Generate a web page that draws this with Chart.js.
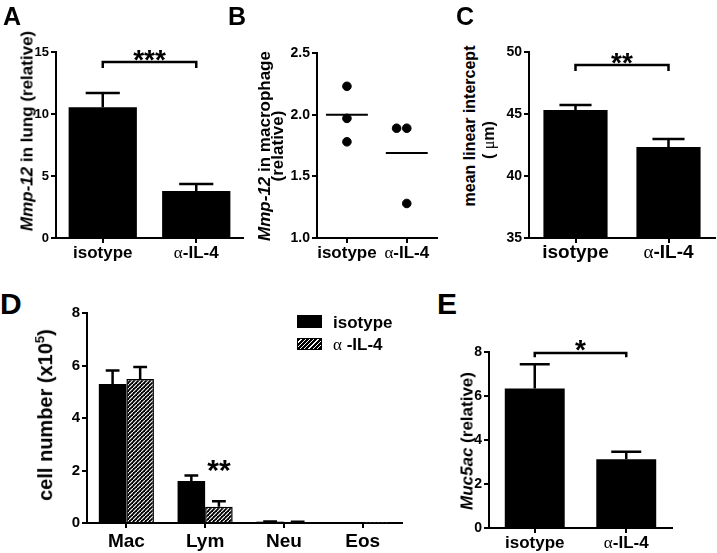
<!DOCTYPE html>
<html><head><meta charset="utf-8">
<script src="https://cdn.jsdelivr.net/npm/chart.js@4.4.0/dist/chart.umd.min.js"></script>
<style>
body{margin:0;background:#fff;width:717px;height:553px;position:relative;overflow:hidden;font-family:"Liberation Sans",Arial,sans-serif;}
canvas{position:absolute;}
.t{position:absolute;font-weight:bold;color:#000;white-space:nowrap;line-height:1;}
.rot{transform:translate(-50%,-50%) rotate(-90deg);}
.sym{font-family:"Liberation Serif","DejaVu Serif",serif;font-weight:normal;}
</style></head><body>
<script>
// ---------- data ----------
const groups = ['isotype', 'α-IL-4'];
const mmp12Lung = [10.55, 3.8];
const mmp12LungSem = [1.15, 0.55];
const macIsoPoints = [2.23, 1.97, 1.78];
const macAntiPoints = [1.89, 1.89, 1.28];
const macAntiJitter = [-0.17, 0, 0];
const macMeans = [2.0, 1.69];
const mli = [45.32, 42.34];
const mliSem = [0.41, 0.64];
const cellTypes = ['Mac', 'Lym', 'Neu', 'Eos'];
const cellsIso = [5.3, 1.6, 0.05, 0.01];
const cellsIsoSem = [0.51, 0.21, 0.01, 0];
const cellsAnti = [5.49, 0.62, 0.04, 0.01];
const cellsAntiSem = [0.45, 0.21, 0.01, 0];
const muc5ac = [6.34, 3.12];
const muc5acSem = [1.1, 0.35];
const sigA = [0, 1, 14.2, 13.7, '***'];
const sigC = [0, 1, 48.95, 48.47, '**'];
const sigE = [0, 1, 7.95, 7.76, '*'];
const sigD = [1, 1, 2.3, '**'];   // dataset, index, value, label

const F = '"Liberation Sans", Arial, sans-serif';
const SERIF = '"Liberation Serif", "DejaVu Serif", serif';

// ---------- plugins ----------
const errorBars = {
  id: 'errorBars',
  afterDatasetsDraw(chart) {
    const ctx = chart.ctx;
    chart.data.datasets.forEach((ds, i) => {
      if (!ds.errors) return;
      const meta = chart.getDatasetMeta(i);
      const ys = chart.scales.y;
      meta.data.forEach((bar, j) => {
        const e = ds.errors[j];
        if (!e) return;
        const top = ys.getPixelForValue(ds.data[j] + e);
        const x = bar.x, w = bar.width * 0.5;
        ctx.save();
        ctx.strokeStyle = '#000'; ctx.lineWidth = 2.5;
        ctx.beginPath();
        ctx.moveTo(x, bar.y); ctx.lineTo(x, top);
        ctx.moveTo(x - w / 2, top); ctx.lineTo(x + w / 2, top);
        ctx.stroke(); ctx.restore();
      });
    });
  }
};
const sigPlugin = {
  id: 'sig',
  afterDraw(chart, args, opts) {
    const ctx = chart.ctx, xs = chart.scales.x, ys = chart.scales.y;
    (opts.items || []).forEach(it => {
      ctx.save();
      ctx.strokeStyle = '#000'; ctx.fillStyle = '#000'; ctx.lineWidth = 2.5;
      let cx, cy;
      if (it.bracket) {
        const x1 = xs.getPixelForValue(it.bracket[0]), x2 = xs.getPixelForValue(it.bracket[1]);
        const y = ys.getPixelForValue(it.bracket[2]), yl = ys.getPixelForValue(it.bracket[3]);
        ctx.beginPath();
        ctx.moveTo(x1, yl); ctx.lineTo(x1, y); ctx.lineTo(x2, y); ctx.lineTo(x2, yl);
        ctx.stroke();
        cx = (x1 + x2) / 2; cy = y - it.gap;
      } else {
        const bar = chart.getDatasetMeta(it.bar[0]).data[it.bar[1]];
        cx = bar.x; cy = ys.getPixelForValue(it.bar[2]);
      }
      ctx.font = 'bold ' + it.size + 'px ' + F;
      ctx.textAlign = 'center'; ctx.textBaseline = 'alphabetic';
      ctx.fillText(it.text, cx, cy + it.size * 0.58);
      ctx.restore();
    });
  }
};
// x labels: Greek letter in a plain serif face, rest in bold sans (as in the original)
const xLabels = {
  id: 'xLabels',
  afterDraw(chart, args, opts) {
    if (!opts.size) return;
    const ctx = chart.ctx, xs = chart.scales.x;
    ctx.save();
    ctx.fillStyle = '#000'; ctx.textBaseline = 'alphabetic'; ctx.textAlign = 'left';
    const y = xs.top + 5 + opts.pad + opts.size * 0.8;
    xs.ticks.forEach((t, i) => {
      const lab = String(opts.labels[i]);
      const x = xs.getPixelForTick(i);
      let parts = [];
      if (lab[0] === 'α') parts = [['α', 'normal ' + opts.size + 'px ' + SERIF], [lab.slice(1), 'bold ' + opts.size + 'px ' + F]];
      else parts = [[lab, 'bold ' + opts.size + 'px ' + F]];
      let w = 0;
      parts.forEach(p => { ctx.font = p[1]; w += ctx.measureText(p[0]).width; });
      let cx = x - w / 2;
      parts.forEach(p => { ctx.font = p[1]; ctx.fillText(p[0], cx, y); cx += ctx.measureText(p[0]).width; });
    });
    ctx.restore();
  }
};
Chart.register(errorBars, sigPlugin, xLabels);

function hatch(ctx) {
  const c = document.createElement('canvas'); c.width = 4; c.height = 4;
  const g = c.getContext('2d');
  g.fillStyle = '#000'; g.fillRect(0, 0, 4, 4);
  g.strokeStyle = '#fff'; g.lineWidth = 1.1;
  g.beginPath();
  g.moveTo(-1, 5); g.lineTo(5, -1);
  g.stroke();
  return ctx.createPattern(c, 'repeat');
}

function makeCanvas(L, T, R, B, yW, padT, padR, xH) {
  const c = document.createElement('canvas');
  const w = yW + (R - L) + padR, h = padT + (B - T) + xH;
  c.width = w; c.height = h;
  c.style.left = (L - yW) + 'px'; c.style.top = (T - padT) + 'px';
  c.style.width = w + 'px'; c.style.height = h + 'px';
  document.body.appendChild(c);
  return c;
}
function yAxis(min, max, step, size, w, fmt) {
  return {
    min, max,
    ticks: { stepSize: step, color: '#000', font: { family: F, weight: 'bold', size }, padding: 2,
      callback: fmt || (v => v) },
    grid: { drawOnChartArea: false, drawTicks: true, tickLength: 5, color: '#000', lineWidth: 2 },
    border: { display: true, color: '#000', width: 2 },
    afterFit(s) { s.width = w; }
  };
}
function xAxis(h) {
  return {
    type: 'category', offset: true,
    ticks: { display: false, autoSkip: false },
    grid: { offset: false, drawOnChartArea: false, drawTicks: true, tickLength: 5, color: '#000', lineWidth: 2 },
    border: { display: true, color: '#000', width: 2 },
    afterFit(s) { s.height = h; }
  };
}
function baseOpts(padT, padR) {
  return {
    responsive: false, animation: false, devicePixelRatio: 1,
    layout: { padding: { left: 0, top: padT, right: padR, bottom: 0 } },
    plugins: { legend: { display: false }, tooltip: { enabled: false } }
  };
}
function barChart(canvas, labels, datasets, y, xSize, xPad, padT, padR, sig) {
  const o = baseOpts(padT, padR);
  o.scales = { x: xAxis(35), y };
  o.plugins.sig = { items: sig };
  o.plugins.xLabels = { size: xSize, pad: xPad, labels };
  return new Chart(canvas, { type: 'bar', data: { labels, datasets }, options: o });
}

// ---------- Panel A ----------
{
  const c = makeCanvas(56, 52, 243, 238, 50, 25, 3, 35);
  barChart(c, groups, [{ data: mmp12Lung, errors: mmp12LungSem, backgroundColor: '#000',
    barPercentage: 0.73, categoryPercentage: 1 }],
    yAxis(0, 15, 5, 13, 50), 17, 1, 25, 3,
    [{ bracket: sigA.slice(0, 4), text: sigA[4], gap: 9, size: 28 }]);
}
// ---------- Panel B ----------
{
  const c = makeCanvas(317, 53, 439, 238, 50, 25, 3, 35);
  const o = baseOpts(25, 3);
  o.scales = {
    x: {
      type: 'linear', min: 0, max: 2,
      afterBuildTicks(s) { s.ticks = groups.map((g, i) => ({ value: i + 0.5 })); },
      ticks: { display: false },
      grid: { drawOnChartArea: false, drawTicks: true, tickLength: 5, color: '#000', lineWidth: 2 },
      border: { display: true, color: '#000', width: 2 },
      afterFit(s) { s.height = 35; }
    },
    y: yAxis(1, 2.5, 0.5, 14, 50, v => v.toFixed(1))
  };
  o.plugins.xLabels = { size: 17, pad: 1, labels: groups };
  const pts = [
    ...macIsoPoints.map(v => ({ x: 0.5, y: v })),
    ...macAntiPoints.map((v, i) => ({ x: 1.5 + macAntiJitter[i], y: v }))
  ];
  const ds = [{ type: 'scatter', data: pts, backgroundColor: '#000', borderColor: '#000', pointRadius: 4.3 }];
  macMeans.forEach((m, i) => ds.push({ type: 'line', data: [{ x: i + 0.15, y: m }, { x: i + 0.85, y: m }],
    borderColor: '#000', borderWidth: 2, pointRadius: 0 }));
  new Chart(c, { type: 'scatter', data: { datasets: ds }, options: o });
}
// ---------- Panel C ----------
{
  const c = makeCanvas(529, 52, 715, 238, 50, 25, 2, 35);
  barChart(c, groups, [{ data: mli, errors: mliSem, backgroundColor: '#000',
    barPercentage: 0.69, categoryPercentage: 1, base: 35 }],
    yAxis(35, 50, 5, 14, 50), 19, 0, 25, 2,
    [{ bracket: sigC.slice(0, 4), text: sigC[4], gap: 9, size: 28 }]);
}
// ---------- Panel D ----------
{
  const c = makeCanvas(87, 313, 402, 523, 50, 25, 3, 35);
  const ctx = c.getContext('2d');
  barChart(c, cellTypes, [
    { label: 'isotype', data: cellsIso, errors: cellsIsoSem, backgroundColor: '#000',
      barPercentage: 1, categoryPercentage: 0.7 },
    { label: 'α-IL-4', data: cellsAnti, errors: cellsAntiSem, backgroundColor: hatch(ctx),
      borderColor: '#000', borderWidth: 1.5, barPercentage: 1, categoryPercentage: 0.7 }
  ], yAxis(0, 8, 2, 15, 50), 19, 4, 25, 3,
    [{ bar: [sigD[0], sigD[1], sigD[2]], text: sigD[3], size: 30 }]);
}
// ---------- Panel E ----------
{
  const c = makeCanvas(489, 352, 672, 528, 50, 25, 3, 35);
  barChart(c, groups, [{ data: muc5ac, errors: muc5acSem, backgroundColor: '#000',
    barPercentage: 0.655, categoryPercentage: 1 }],
    yAxis(0, 8, 2, 14, 50), 17, 1, 25, 3,
    [{ bracket: sigE.slice(0, 4), text: sigE[4], gap: 10, size: 28 }]);
}
</script>

<!-- panel letters -->
<div class="t" style="left:3px;top:4px;font-size:25px;">A</div>
<div class="t" style="left:228px;top:4px;font-size:25px;">B</div>
<div class="t" style="left:456px;top:4px;font-size:25px;">C</div>
<div class="t" style="left:0px;top:289px;font-size:30px;">D</div>
<div class="t" style="left:437px;top:289px;font-size:30px;">E</div>

<!-- axis titles -->
<div class="t rot" style="left:27px;top:131px;font-size:17px;"><i>Mmp-12</i> in lung (relative)</div>
<div class="t rot" style="left:264px;top:146px;font-size:17px;"><i>Mmp-12</i> in macrophage</div>
<div class="t rot" style="left:277px;top:146px;font-size:17px;">(relative)</div>
<div class="t rot" style="left:470px;top:126px;font-size:16px;">mean linear intercept</div>
<div class="t rot" style="left:489px;top:140px;font-size:16px;">( <span class="sym">μ</span>m)</div>
<div class="t rot" style="left:44px;top:415px;font-size:20px;">cell number (x10<sup style="font-size:13px">5</sup>)</div>
<div class="t rot" style="left:467px;top:441px;font-size:17px;"><i>Muc5ac</i> (relative)</div>

<!-- legend D -->
<div style="position:absolute;left:297px;top:315px;width:25px;height:13px;background:#000;"></div>
<div class="t" style="left:333px;top:314px;font-size:17px;">isotype</div>
<div style="position:absolute;left:297px;top:338px;width:23px;height:10px;border:1px solid #000;background:repeating-linear-gradient(135deg,#000 0 2px,#fff 2px 3px);"></div>
<div class="t" style="left:333px;top:336px;font-size:17px;"><span class="sym">α</span> -IL-4</div>
</body></html>
